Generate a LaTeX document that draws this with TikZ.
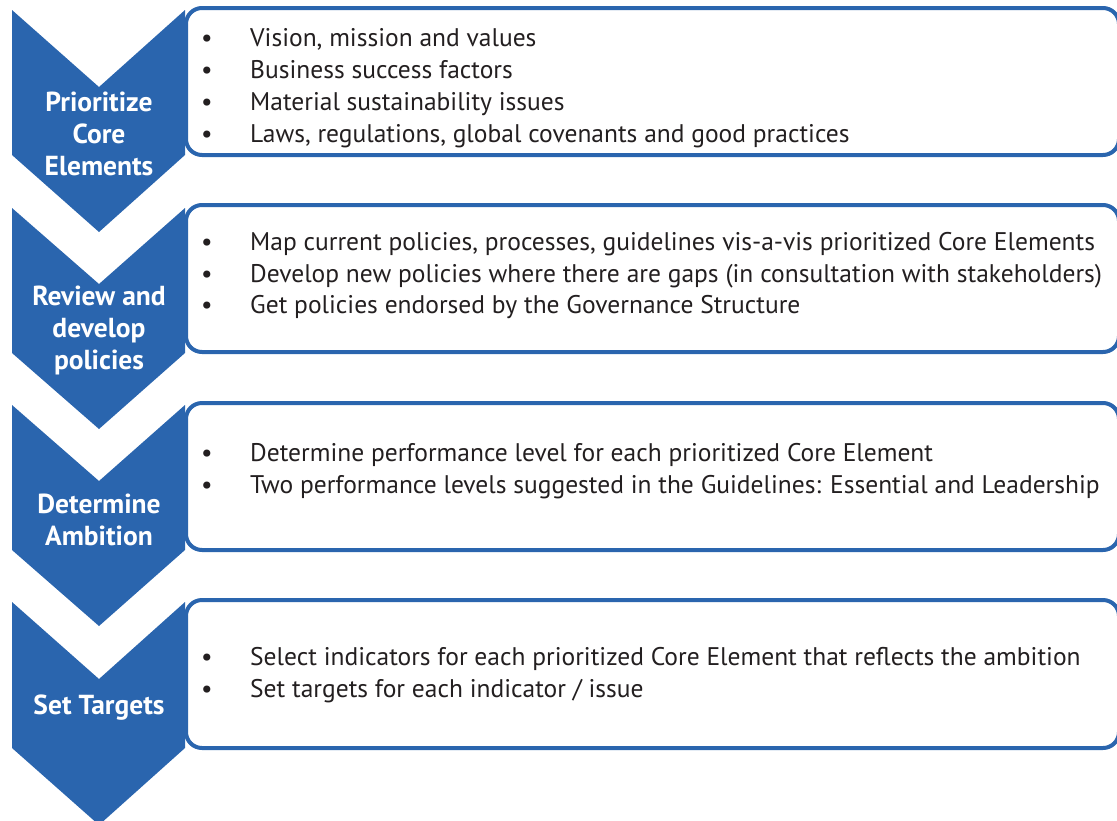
\documentclass[tikz,border=0pt]{standalone}
\usepackage{fontspec}
\setmainfont{PT Sans}
\definecolor{stepblue}{HTML}{2A65AE}
\definecolor{ink}{HTML}{231F20}
\begin{document}
\begin{tikzpicture}[x=1pt,y=-1pt,
    chevron/.style={fill=stepblue},
    panel/.style={draw=stepblue,line width=4pt,fill=white,rounded corners=16pt},
    steplabel/.style={text=white,font=\fontsize{27.5}{32}\selectfont\bfseries,align=center,inner sep=0pt},
    dot/.style={text=ink,font=\fontsize{25.5}{32}\selectfont,anchor=base,inner sep=0pt},
    item/.style={text=ink,font=\fontsize{25.5}{32}\selectfont,anchor=base west,inner sep=0pt}]
    \useasboundingbox (0,0) rectangle (1117,820);
    % panels
    \draw [panel] (186,8) rectangle (1119,155);
    \draw [panel] (186,205) rectangle (1119,352);
    \draw [panel] (186,403) rectangle (1119,550);
    \draw [panel] (186,600) rectangle (1119,748);
    % chevrons
    \fill [chevron] (12,10) -- (99,87) -- (185,10) -- (185,155) -- (99,232) -- (12,155) -- cycle;
    \fill [chevron] (12,208) -- (99,284) -- (185,208) -- (185,353) -- (99,429) -- (12,353) -- cycle;
    \fill [chevron] (12,405) -- (99,481) -- (185,405) -- (185,550) -- (99,626) -- (12,550) -- cycle;
    \fill [chevron] (12,602) -- (99,679) -- (185,602) -- (185,748) -- (99,825) -- (12,748) -- cycle;
    % step names
    \node [steplabel] (prio) at (99,134) {Prioritize\\Core\\Elements};
    \node [steplabel] (review) at (99,330) {Review and\\develop\\policies};
    \node [steplabel] (ambition) at (99,520) {Determine\\Ambition};
    \node [steplabel] (targets) at (99,708) {Set Targets};
    % first panel
    \node [dot] (b11) at (207,46) {•};
    \node [item] (t11) at (250,46) {Vision, mission and values};
    \node [dot] (b12) at (207,78) {•};
    \node [item] (t12) at (250,78) {Business success factors};
    \node [dot] (b13) at (207,110) {•};
    \node [item] (t13) at (250,110) {Material sustainability issues};
    \node [dot] (b14) at (207,142) {•};
    \node [item] (t14) at (250,142) {Laws, regulations, global covenants and good practices};
    % second panel
    \node [dot] (b21) at (207,250) {•};
    \node [item] (t21) at (250,250) {Map current policies, processes, guidelines vis-a-vis prioritized Core Elements};
    \node [dot] (b22) at (207,282) {•};
    \node [item] (t22) at (250,282) {Develop new policies where there are gaps (in consultation with stakeholders)};
    \node [dot] (b23) at (207,313) {•};
    \node [item] (t23) at (250,313) {Get policies endorsed by the Governance Structure};
    % third panel
    \node [dot] (b31) at (207,461) {•};
    \node [item] (t31) at (250,461) {Determine performance level for each prioritized Core Element};
    \node [dot] (b32) at (207,493) {•};
    \node [item] (t32) at (250,493) {Two performance levels suggested in the Guidelines: Essential and Leadership};
    % fourth panel
    \node [dot] (b41) at (207,665) {•};
    \node [item] (t41) at (250,665) {Select indicators for each prioritized Core Element that reflects the ambition};
    \node [dot] (b42) at (207,697) {•};
    \node [item] (t42) at (250,697) {Set targets for each indicator / issue};
\end{tikzpicture}
\end{document}
